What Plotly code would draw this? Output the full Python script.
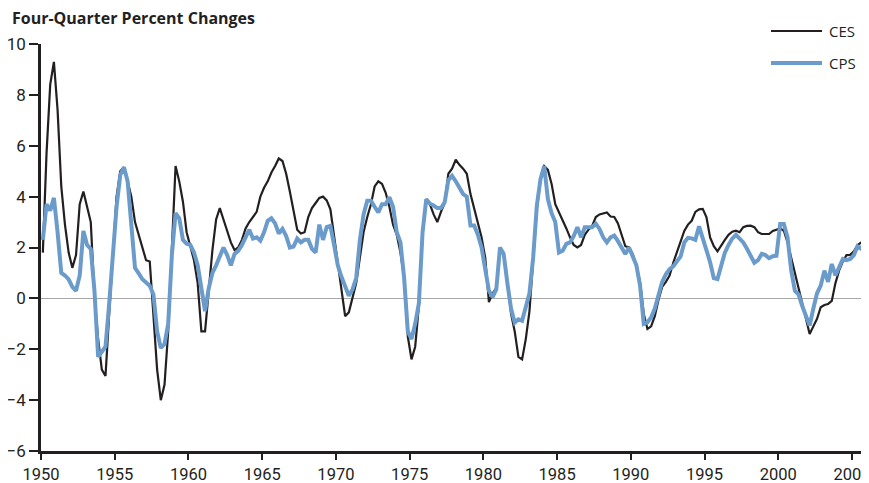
import plotly.graph_objects as go

# Quarterly data, 1950Q1 .. 2006Q1 (four values per year)
start_year = 1950

ces = [
    1.8, 5.7, 8.4, 9.3,      # 1950
    7.4, 4.4, 2.9, 1.8,      # 1951
    1.2, 1.7, 3.7, 4.2,      # 1952
    3.6, 3.0, 0.1, -1.6,     # 1953
    -2.8, -3.05, -0.6, 1.7,  # 1954
    4.0, 5.0, 5.15, 4.6,     # 1955
    4.0, 3.0, 2.5, 1.9,      # 1956
    1.5, 1.45, -0.9, -2.8,   # 1957
    -4.0, -3.4, -1.3, 2.0,   # 1958
    5.2, 4.6, 3.8, 2.6,      # 1959
    2.0, 1.5, 0.6, -1.3,     # 1960
    -1.3, 0.3, 1.9, 3.1,     # 1961
    3.55, 3.1, 2.6, 2.2,     # 1962
    1.9, 2.0, 2.3, 2.75,     # 1963
    3.0, 3.2, 3.4, 4.0,      # 1964
    4.35, 4.6, 4.95, 5.2,    # 1965
    5.5, 5.4, 4.9, 4.2,      # 1966
    3.4, 2.7, 2.55, 2.6,     # 1967
    3.2, 3.55, 3.75, 3.95,   # 1968
    4.0, 3.85, 3.5, 2.5,     # 1969
    1.5, 0.5, -0.7, -0.55,   # 1970
    0.0, 0.6, 1.6, 2.6,      # 1971
    3.2, 3.7, 4.4, 4.6,      # 1972
    4.5, 4.15, 3.6, 2.9,     # 1973
    2.5, 1.8, 0.8, -1.5,     # 1974
    -2.4, -1.9, -0.3, 2.5,   # 1975
    3.9, 3.7, 3.3, 3.0,      # 1976
    3.4, 3.75, 4.9, 5.1,     # 1977
    5.45, 5.25, 5.1, 4.9,    # 1978
    4.1, 3.5, 3.0, 2.4,      # 1979
    1.6, -0.15, 0.2, 0.4,    # 1980
    1.9, 1.75, 0.7, -0.6,    # 1981
    -1.3, -2.3, -2.4, -1.6,  # 1982
    -0.5, 1.4, 3.5, 4.7,     # 1983
    5.2, 5.05, 4.5, 3.7,     # 1984
    3.4, 3.1, 2.75, 2.4,     # 1985
    2.1, 2.0, 2.1, 2.5,      # 1986
    2.7, 2.85, 3.2, 3.3,     # 1987
    3.35, 3.38, 3.22, 3.2,   # 1988
    2.95, 2.5, 2.05, 2.0,    # 1989
    1.75, 1.3, 0.65, -0.6,   # 1990
    -1.2, -1.1, -0.7, -0.05, # 1991
    0.45, 0.65, 0.9, 1.4,    # 1992
    1.8, 2.2, 2.65, 2.9,     # 1993
    3.05, 3.4, 3.5, 3.52,    # 1994
    3.2, 2.4, 2.05, 1.85,    # 1995
    2.05, 2.3, 2.5, 2.62,    # 1996
    2.66, 2.6, 2.8, 2.85,    # 1997
    2.86, 2.8, 2.6, 2.53,    # 1998
    2.53, 2.53, 2.65, 2.7,   # 1999
    2.75, 2.66, 2.2, 1.6,    # 2000
    1.0, 0.35, -0.2, -0.8,   # 2001
    -1.4, -1.1, -0.8, -0.35, # 2002
    -0.26, -0.22, -0.1, 0.6, # 2003
    1.1, 1.45, 1.7, 1.71,    # 2004
    1.85, 2.1, 2.2, 2.25,    # 2005
    2.05,                    # 2006
]

cps = [
    2.3, 3.7, 3.45, 3.95,    # 1950
    2.6, 1.0, 0.9, 0.75,     # 1951
    0.45, 0.3, 0.9, 2.65,    # 1952
    2.1, 1.95, 0.3, -2.3,    # 1953
    -2.1, -1.9, -0.2, 1.8,   # 1954
    3.6, 4.85, 5.15, 4.6,    # 1955
    2.8, 1.2, 0.98, 0.75,    # 1956
    0.62, 0.5, 0.15, -1.3,   # 1957
    -1.95, -1.8, -1.0, 1.7,  # 1958
    3.35, 3.15, 2.3, 2.15,   # 1959
    2.1, 1.8, 1.3, 0.5,      # 1960
    -0.5, 0.4, 1.0, 1.3,     # 1961
    1.7, 2.0, 1.7, 1.3,      # 1962
    1.75, 1.87, 2.1, 2.4,    # 1963
    2.7, 2.35, 2.4, 2.27,    # 1964
    2.6, 3.05, 3.15, 2.95,   # 1965
    2.55, 2.73, 2.45, 2.0,   # 1966
    2.04, 2.35, 2.2, 2.3,    # 1967
    2.3, 1.95, 1.8, 2.9,     # 1968
    2.3, 2.8, 2.85, 2.1,     # 1969
    1.3, 0.85, 0.45, 0.1,    # 1970
    0.35, 0.8, 2.3, 3.3,     # 1971
    3.84, 3.84, 3.6, 3.38,   # 1972
    3.7, 3.7, 3.98, 3.6,     # 1973
    2.6, 2.2, 0.8, -1.3,     # 1974
    -1.6, -1.0, -0.2, 2.6,   # 1975
    3.9, 3.72, 3.65, 3.55,   # 1976
    3.55, 3.78, 4.65, 4.82,  # 1977
    4.6, 4.35, 4.1, 4.0,     # 1978
    2.86, 2.86, 2.5, 2.0,    # 1979
    1.2, 0.3, 0.05, 0.35,    # 1980
    2.0, 1.75, 0.6, -0.4,    # 1981
    -0.95, -0.82, -0.88, -0.4, # 1982
    0.2, 1.6, 3.65, 4.7,     # 1983
    5.2, 3.9, 3.35, 3.0,     # 1984
    1.8, 1.87, 2.14, 2.2,    # 1985
    2.45, 2.8, 2.4, 2.8,     # 1986
    2.8, 2.8, 2.93, 2.73,    # 1987
    2.4, 2.2, 2.4, 2.47,     # 1988
    2.25, 2.0, 1.74, 2.0,    # 1989
    1.6, 1.3, 0.5, -1.0,     # 1990
    -0.94, -0.75, -0.4, 0.1, # 1991
    0.65, 0.95, 1.15, 1.26,  # 1992
    1.45, 1.65, 2.2, 2.38,   # 1993
    2.36, 2.3, 2.83, 2.3,    # 1994
    1.9, 1.42, 0.8, 0.76,    # 1995
    1.3, 1.8, 2.1, 2.35,     # 1996
    2.5, 2.35, 2.2, 1.95,    # 1997
    1.65, 1.4, 1.5, 1.75,    # 1998
    1.7, 1.58, 1.66, 1.68,   # 1999
    2.92, 2.92, 2.4, 1.1,    # 2000
    0.3, 0.15, -0.3, -0.7,   # 2001
    -1.07, -0.4, 0.2, 0.5,   # 2002
    1.09, 0.65, 1.35, 0.9,   # 2003
    1.2, 1.55, 1.5, 1.55,    # 2004
    1.7, 2.05, 1.95, 2.25,   # 2005
    2.0,                     # 2006
]

series_names = ["CES", "CPS"]
x_ticks = list(range(1950, 2006, 5))
y_ticks = list(range(-6, 11, 2))
title_text = "Four-Quarter Percent Changes"

# mid-quarter time positions
t_ces = [start_year + i / 4 + 0.125 for i in range(len(ces))]
t_cps = [start_year + i / 4 + 0.125 for i in range(len(cps))]

ink = "#231f20"
blue = "#6b9bcb"
tick_font = dict(family="Roboto, sans-serif", size=16.5, color=ink)
label_font = dict(family="Open Sans, sans-serif", size=15, color=ink)

# plot area in page pixels (the page body adds an 8px offset)
PL, PR, PT, PB = 41, 869, 44, 451
OFF = 8
W, H = 869 - OFF, 483 - OFF
PW, PH = PR - PL, PB - PT


def px(xp):
    return (xp - PL) / PW


def py(yp):
    return (PB - yp) / PH


fig = go.Figure()
fig.add_trace(go.Scatter(x=t_ces, y=ces, mode="lines", name=series_names[0],
                         line=dict(color=ink, width=2.2)))
fig.add_trace(go.Scatter(x=t_cps, y=cps, mode="lines", name=series_names[1],
                         line=dict(color=blue, width=4)))

# legend drawn as keys + labels at top right
legend_rows = [(series_names[0], ink, 2.2, 31), (series_names[1], blue, 4, 63)]
shapes, annotations = [], []
for name, color, width, yp in legend_rows:
    shapes.append(dict(type="line", xref="paper", yref="paper",
                       x0=px(771), x1=px(822), y0=py(yp), y1=py(yp),
                       line=dict(color=color, width=width)))
    annotations.append(dict(text=name, xref="paper", yref="paper", x=px(827), y=py(yp),
                            xanchor="left", yanchor="middle", showarrow=False,
                            font=label_font))

annotations.append(dict(text="<b>" + title_text + "</b>", xref="paper", yref="paper",
                        x=px(10), y=py(18), xanchor="left", yanchor="middle",
                        showarrow=False,
                        font=dict(family="Open Sans, sans-serif", size=16, color=ink)))

fig.update_layout(
    width=W, height=H,
    margin=dict(l=PL - OFF, r=0, t=PT - OFF, b=H - (PB - OFF), autoexpand=False),
    paper_bgcolor="white", plot_bgcolor="white",
    showlegend=False,
    shapes=shapes,
    annotations=annotations,
)
fig.update_xaxes(range=[1950, 2006.15], tickvals=x_ticks, ticktext=[str(v) for v in x_ticks],
                 automargin=False, ticklabeloverflow="allow",
                 showgrid=False, zeroline=False, showline=True, linecolor=ink, linewidth=2.5,
                 ticks="outside", ticklen=6, tickwidth=2, tickcolor=ink, tickfont=tick_font)
fig.update_yaxes(range=[-6, 10], tickvals=y_ticks, showgrid=False, automargin=False,
                 zeroline=True, zerolinecolor="#a8a8a8", zerolinewidth=1.2,
                 showline=True, linecolor=ink, linewidth=2.5,
                 ticks="outside", ticklen=9, tickwidth=2, tickcolor=ink,
                 tickfont=dict(family="Roboto, sans-serif", size=17, color=ink))

fig.write_html("out.html")
